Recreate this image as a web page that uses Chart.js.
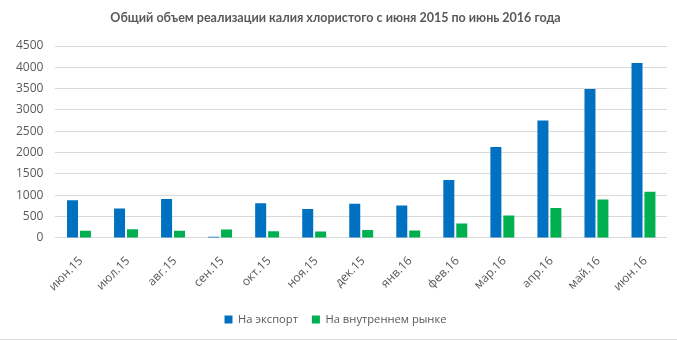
<!DOCTYPE html>
<html lang="ru">
<head>
<meta charset="utf-8">
<script src="https://cdn.jsdelivr.net/npm/chart.js@4"></script>
<style>
  html, body { margin: 0; padding: 0; background: #fff; }
  #wrap { width: 677px; height: 339px; border-bottom: 1px solid #d9d9d9; position: relative; }
</style>
</head>
<body>
<div id="wrap"><canvas id="salesChart" width="677" height="339"></canvas></div>
<script>
const months = ["июн.15", "июл.15", "авг.15", "сен.15", "окт.15", "ноя.15", "дек.15",
  "янв.16", "фев.16", "мар.16", "апр.16", "май.16", "июн.16"];
const exportVolume = [880, 690, 910, 25, 810, 680, 800, 760, 1360, 2130, 2750, 3490, 4100];
const domesticVolume = [170, 205, 170, 195, 155, 150, 185, 175, 335, 525, 700, 900, 1080];

const ctx = document.getElementById("salesChart").getContext("2d");
const textColor = "#595959";
const fontFamily = "'Open Sans', sans-serif";

new Chart(ctx, {
  type: "bar",
  data: {
    labels: months,
    datasets: [
      {
        label: "На экспорт",
        data: exportVolume,
        backgroundColor: "#0070c0",
        barPercentage: 0.85,
        categoryPercentage: 0.55,
      },
      {
        label: "На внутреннем рынке",
        data: domesticVolume,
        backgroundColor: "#00b050",
        barPercentage: 0.85,
        categoryPercentage: 0.55,
      },
    ],
  },
  options: {
    responsive: false,
    animation: false,
    layout: { padding: { left: 4, right: 10, top: 4, bottom: 4 } },
    plugins: {
      title: {
        display: true,
        text: "Общий объем реализации калия хлористого с июня 2015 по июнь 2016 года",
        color: textColor,
        font: { family: "Lato, sans-serif", size: 12.5, weight: "bold" },
        padding: { top: 6, bottom: 21 },
      },
      legend: {
        position: "bottom",
        labels: {
          color: textColor,
          font: { family: fontFamily, size: 11.2 },
          boxWidth: 8,
          boxHeight: 8,
          padding: 14,
        },
      },
      tooltip: { enabled: false },
    },
    scales: {
      x: {
        grid: { display: false },
        border: { display: false },
        ticks: {
          color: textColor,
          font: { family: fontFamily, size: 12 },
          minRotation: 45,
          maxRotation: 45,
          padding: 8,
          labelOffset: 2,
        },
        // trim the axis box so the plot keeps its height
        afterFit: (axis) => { axis.height -= 2; },
      },
      y: {
        min: 0,
        max: 4500,
        border: { display: false },
        grid: { color: "#d9d9d9", drawTicks: false },
        ticks: {
          stepSize: 500,
          color: textColor,
          font: { family: fontFamily, size: 12 },
          padding: 12,
          callback: (v) => String(v),
        },
      },
    },
  },
});
</script>
</body>
</html>
